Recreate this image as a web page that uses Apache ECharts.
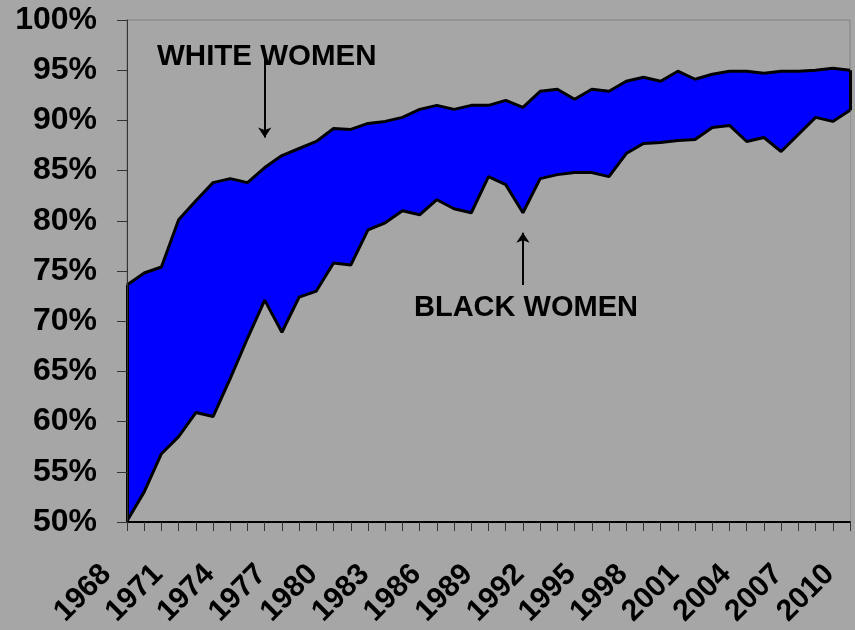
<!DOCTYPE html>
<html>
<head>
<meta charset="utf-8">
<script src="https://cdn.jsdelivr.net/npm/echarts@6/dist/echarts.min.js"></script>
<style>
html,body{margin:0;padding:0;background:#A6A6A6;}
#chart{width:855px;height:630px;}
</style>
</head>
<body>
<div id="chart"></div>
<script>
// years on the x axis
var years = ['1968','1969','1970','1971','1972','1973','1974','1975','1976','1977',
	'1978','1979','1980','1981','1982','1983','1984','1985','1986','1987',
	'1988','1989','1990','1991','1992','1993','1994','1995','1996','1997',
	'1998','1999','2000','2001','2002','2003','2004','2005','2006','2007',
	'2008','2009','2010'];

// white women (upper edge)
var whiteWomen = [73.6, 74.8, 75.4, 80.1, 82.0, 83.8, 84.2, 83.8, 85.3, 86.5,
	87.2, 87.9, 89.2, 89.1, 89.7, 89.9, 90.3, 91.1, 91.5, 91.1,
	91.5, 91.5, 92.0, 91.3, 92.9, 93.1, 92.1, 93.1, 92.9, 93.9,
	94.3, 93.9, 94.9, 94.1, 94.6, 94.9, 94.9, 94.7, 94.9, 94.9,
	95.0, 95.2, 95.0];

// black women (lower edge)
var blackWomen = [50.1, 53.0, 56.8, 58.5, 60.9, 60.5, 64.3, 68.3, 72.1, 68.9,
	72.4, 73.0, 75.8, 75.6, 79.1, 79.8, 81.0, 80.6, 82.1, 81.2,
	80.8, 84.4, 83.6, 80.8, 84.2, 84.6, 84.8, 84.8, 84.4, 86.7,
	87.7, 87.8, 88.0, 88.1, 89.3, 89.5, 87.9, 88.3, 86.9, 88.6,
	90.3, 89.9, 91.0];

var yMin = 50, yMax = 100, yStep = 5;

var BG = '#A6A6A6';
var FONT = "'Liberation Sans', Arial, sans-serif";
var last = years.length - 1;

var chart = echarts.init(document.getElementById('chart'));

var opt = {
	backgroundColor: BG,
	animation: false,
	grid: {
		left: 127, right: 5, top: 20, bottom: 108,
		outerBoundsMode: 'none', containLabel: false,
		show: true, borderColor: '#808080', borderWidth: 1,
		backgroundColor: 'transparent'
	},
	xAxis: {
		type: 'category',
		data: years,
		boundaryGap: false,
		z: 5,
		axisLine: {lineStyle: {color: '#000', width: 2}},
		axisTick: {show: true, interval: 0, length: 9, lineStyle: {color: '#333', width: 1}},
		axisLabel: {
			interval: 2, rotate: 45, margin: 27,
			formatter: function(v){ return '{y|' + v + '}'; },
			rich: {y: {padding: [0, 29, 0, 0], color: '#000', fontWeight: 'bold', fontSize: 30, fontFamily: FONT}},
			color: '#000', fontWeight: 'bold', fontSize: 30, fontFamily: FONT
		},
		splitLine: {show: false}
	},
	yAxis: {
		type: 'value',
		min: yMin, max: yMax, interval: yStep,
		z: 5,
		axisLine: {show: true, lineStyle: {color: '#333', width: 1}},
		axisTick: {show: true, length: 10, lineStyle: {color: '#333', width: 1}},
		axisLabel: {
			margin: 30, formatter: '{value}%',
			color: '#000', fontWeight: 'bold', fontSize: 32, fontFamily: FONT
		},
		splitLine: {show: false}
	},
	series: [
		{
			name: 'WHITE WOMEN',
			type: 'line',
			data: whiteWomen,
			symbol: 'none',
			z: 2,
			lineStyle: {color: '#000', width: 3},
			areaStyle: {color: '#0000FF', opacity: 1, origin: 'start'},
			markLine: {
				silent: true, symbol: ['none', 'arrow'], symbolSize: 10,
				label: {show: false},
				lineStyle: {color: '#000', width: 2, type: 'solid'},
				data: [
					[{coord: ['1976', 96.2]}, {coord: ['1976', 88.3]}]
				]
			}
		},
		{
			name: 'BLACK WOMEN',
			type: 'line',
			data: blackWomen,
			symbol: 'none',
			z: 3,
			lineStyle: {color: '#000', width: 3},
			areaStyle: {color: BG, opacity: 1, origin: 'start'},
			markLine: {
				silent: true, symbol: ['none', 'none'],
				label: {show: false},
				lineStyle: {color: '#000', width: 3, type: 'solid'},
				data: [
					[{coord: [years[0], blackWomen[0]]}, {coord: [years[0], whiteWomen[0]]}],
					[{coord: [years[last], blackWomen[last]]}, {coord: [years[last], whiteWomen[last]]}]
				]
			}
		},
		{
			// arrow for the black women note
			type: 'line',
			data: [],
			markLine: {
				silent: true, symbol: ['none', 'arrow'], symbolSize: 10,
				label: {show: false},
				lineStyle: {color: '#000', width: 2, type: 'solid'},
				data: [
					[{coord: ['1991', 73.6]}, {coord: ['1991', 78.8]}]
				]
			}
		}
	],
	graphic: [
		{type: 'text', x: 157, y: 57, z: 10,
			style: {text: 'WHITE WOMEN', font: 'bold 29.5px ' + FONT, fill: '#000', verticalAlign: 'middle'}},
		{type: 'text', x: 414, y: 308, z: 10,
			style: {text: 'BLACK WOMEN', font: 'bold 29px ' + FONT, fill: '#000', verticalAlign: 'middle'}}
	]
};

chart.setOption(opt, true);
</script>
</body>
</html>
